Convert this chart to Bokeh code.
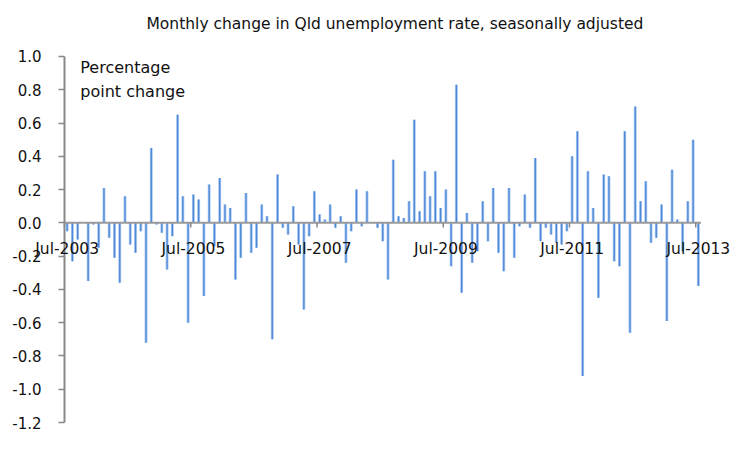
import numpy as np
import pandas as pd
from bokeh.plotting import figure
from bokeh.models import Range1d, FixedTicker, NumeralTickFormatter, Label, ColumnDataSource, LinearAxis
from bokeh.embed import file_html
from bokeh.resources import INLINE

# ---- data ----
months = list(pd.date_range("2003-07-01", "2013-07-01", freq="MS").strftime("%b-%Y"))
change = [
    -0.05, -0.23, -0.10, 0.00, -0.35, -0.01, -0.15, 0.21, -0.09, -0.21,
    -0.36, 0.16, -0.13, -0.18, -0.05, -0.72, 0.45, -0.01, -0.06, -0.28,
    -0.08, 0.65, 0.16, -0.60, 0.17, 0.14, -0.44, 0.23, -0.14, 0.27,
    0.11, 0.09, -0.34, -0.21, 0.18, -0.18, -0.15, 0.11, 0.04, -0.70,
    0.29, -0.03, -0.07, 0.10, -0.13, -0.52, -0.08, 0.19, 0.05, 0.02,
    0.11, -0.03, 0.04, -0.24, -0.05, 0.20, -0.02, 0.19, 0.00, -0.03,
    -0.11, -0.34, 0.38, 0.04, 0.03, 0.13, 0.62, 0.07, 0.31, 0.16,
    0.31, 0.09, 0.20, -0.26, 0.83, -0.42, 0.06, -0.24, -0.17, 0.13,
    -0.11, 0.21, -0.18, -0.29, 0.21, -0.21, -0.02, 0.17, -0.03, 0.39,
    -0.11, -0.03, -0.07, -0.12, -0.13, -0.05, 0.40, 0.55, -0.92, 0.31,
    0.09, -0.45, 0.29, 0.28, -0.23, -0.26, 0.55, -0.66, 0.70, 0.13,
    0.25, -0.12, -0.09, 0.11, -0.59, 0.32, 0.02, -0.17, 0.13, 0.50,
    -0.38,
]
tick_labels = ["Jul-2003", "Jul-2005", "Jul-2007", "Jul-2009", "Jul-2011", "Jul-2013"]
y_ticks = [-1.2, -1.0, -0.8, -0.6, -0.4, -0.2, 0.0, 0.2, 0.4, 0.6, 0.8, 1.0]
title_text = "Monthly change in Qld unemployment rate, seasonally adjusted"
note_lines = ["Percentage", "point change"]

FONT = "DejaVu Sans"
n = len(change)
x = np.arange(n)
tick_idx = [months.index(t) for t in tick_labels]
y_lo, y_hi = y_ticks[0], y_ticks[-1]

# layout (pixels). The plotting frame covers nearly the whole canvas so that
# axis labels near its edges are not clipped; the data area sits inside it.
W, H = 745, 450
TOP, BOTTOM = 44, 5                 # canvas borders around the frame
AREA_L, AREA_R = 64, 700.5          # data area, x
AREA_T, AREA_B = 55, 422            # data area, y
px = (AREA_R - AREA_L) / n
py = (AREA_B - AREA_T) / (y_hi - y_lo)
x_start = -0.5 - AREA_L / px
x_end = n - 0.5 + (W - AREA_R) / px
y_end = y_hi + (AREA_T - TOP) / py
y_start = y_lo - ((H - BOTTOM) - AREA_B) / py

src = ColumnDataSource(dict(x=x, top=change))

p = figure(width=W, height=H, output_backend="svg", toolbar_location=None,
           x_range=Range1d(x_start, x_end), y_range=Range1d(y_start, y_end),
           x_axis_location=None, y_axis_location=None,
           min_border_left=0, min_border_right=0, min_border_top=TOP, min_border_bottom=BOTTOM)
p.title.text = title_text
p.title.align = "left"
p.title.offset = 146
p.title.standoff = 25
p.title.text_font = FONT
p.title.text_font_size = "15.5px"
p.title.text_font_style = "normal"
p.title.text_color = "#111111"

p.outline_line_color = None
p.grid.visible = False

# y axis pinned at the left edge of the data area (line drawn separately)
ya = LinearAxis(ticker=FixedTicker(ticks=y_ticks, minor_ticks=[]),
                formatter=NumeralTickFormatter(format="0.0"), fixed_location=-0.5)
ya.axis_line_color = None
ya.major_tick_line_color = "#888888"
ya.major_tick_line_width = 1.5
ya.major_tick_in = 0
ya.major_tick_out = 6
ya.minor_tick_line_color = None
ya.major_label_standoff = 17
ya.major_label_text_font = FONT
ya.major_label_text_font_size = "15px"
ya.major_label_text_color = "#111111"
p.add_layout(ya, "left")
p.segment(x0=[-0.5], y0=[y_lo], x1=[-0.5], y1=[y_hi], line_color="#888888", line_width=2)

# x axis drawn at the zero line, labels centred on the July categories
xa = LinearAxis(ticker=FixedTicker(ticks=tick_idx, minor_ticks=[]),
                major_label_overrides={i: t for i, t in zip(tick_idx, tick_labels)},
                fixed_location=0)
xa.axis_line_color = None
xa.major_tick_line_color = None
xa.major_tick_in = 0
xa.major_tick_out = 0
xa.minor_tick_line_color = None
xa.major_label_standoff = 17
xa.major_label_text_font = FONT
xa.major_label_text_font_size = "15.5px"
xa.major_label_text_color = "#111111"
p.add_layout(xa, "below")

# bars: light outer stroke with darker core
p.vbar(x="x", top="top", bottom=0, width=0.55, source=src, color="#a9c8f0", line_color=None)
p.vbar(x="x", top="top", bottom=0, width=0.25, source=src, color="#4d88d8", line_color=None)

# zero line across the data area
p.segment(x0=[-0.5], y0=[0], x1=[n - 0.5], y1=[0], line_color="#9a9a9a", line_width=2)

# category ticks at the boundaries before each labelled July
tb = [i - 0.5 for i in tick_idx]
p.segment(x0=tb, y0=[0] * len(tb), x1=tb, y1=[-0.028] * len(tb), line_color="#888888", line_width=1.5)

for j, t in enumerate(note_lines):
    p.add_layout(Label(x=2.5, y=y_hi, text=t, text_align="left", text_baseline="top",
                       y_offset=-2 - 24 * j, text_font=FONT, text_font_size="16px",
                       text_color="#111111"))

open("out.html", "w").write(file_html(p, INLINE))
